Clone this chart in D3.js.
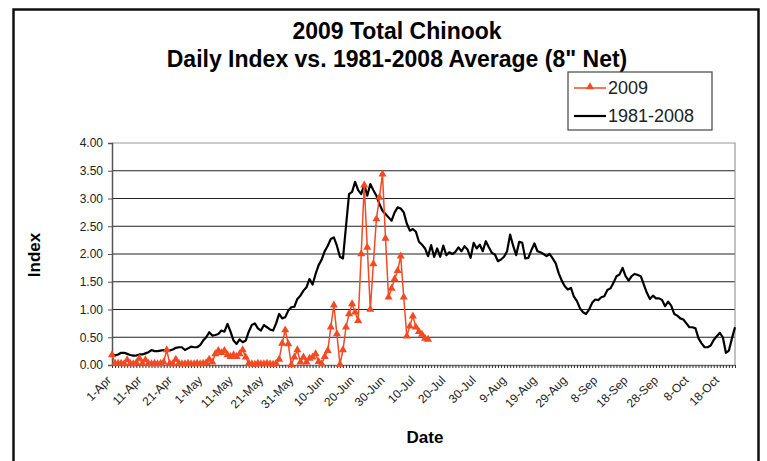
<!DOCTYPE html>
<html>
<head>
<meta charset="utf-8">
<script src="https://d3js.org/d3.v7.min.js"></script>
<style>
    body { margin: 0; background: #fff; }
    svg { display: block; font-family: "Liberation Sans", Arial, sans-serif; }
</style>
</head>
<body>
<svg width="767" height="461"></svg>
<script>
// first and last day of the season
var startDate = "1-Apr-2009";
var endDate = "23-Oct-2009";

var tickLabels = ["1-Apr", "11-Apr", "21-Apr", "1-May", "11-May", "21-May", "31-May",
    "10-Jun", "20-Jun", "30-Jun", "10-Jul", "20-Jul", "30-Jul", "9-Aug", "19-Aug",
    "29-Aug", "8-Sep", "18-Sep", "28-Sep", "8-Oct", "18-Oct"];

var yTicks = [0, 0.5, 1, 1.5, 2, 2.5, 3, 3.5, 4];

// 1981-2008 average daily index, one value per day from 1-Apr
var avgIndex = [
    0.20, 0.17, 0.19, 0.22, 0.22, 0.20, 0.18, 0.17, 0.17, 0.19,
    0.19, 0.21, 0.23, 0.27, 0.25, 0.25, 0.26, 0.27, 0.26, 0.26,
    0.28, 0.31, 0.32, 0.32, 0.27, 0.30, 0.33, 0.32, 0.32, 0.36,
    0.44, 0.50, 0.59, 0.53, 0.54, 0.56, 0.62, 0.60, 0.74, 0.60,
    0.44, 0.38, 0.46, 0.41, 0.44, 0.60, 0.72, 0.75, 0.66, 0.62,
    0.72, 0.68, 0.64, 0.62, 0.75, 0.92, 0.84, 0.86, 0.98, 1.04,
    1.05, 1.19, 1.25, 1.34, 1.40, 1.55, 1.45, 1.64, 1.80, 1.90,
    2.05, 2.15, 2.27, 2.30, 2.15, 1.95, 1.92, 2.50, 3.08, 3.12,
    3.30, 3.15, 3.08, 3.25, 3.05, 3.26, 3.15, 3.05, 2.90, 2.78,
    2.72, 2.66, 2.60, 2.75, 2.84, 2.82, 2.75, 2.55, 2.42, 2.45,
    2.40, 2.22, 2.17, 2.10, 1.96, 2.16, 1.95, 2.10, 1.95, 2.15,
    1.98, 2.03, 2.00, 2.04, 2.12, 2.05, 2.14, 2.08, 1.93, 2.20,
    2.10, 2.17, 2.05, 2.23, 2.12, 2.02, 1.99, 1.87, 1.90, 1.95,
    2.05, 2.35, 2.15, 1.98, 2.22, 2.20, 1.92, 1.93, 2.07, 2.19,
    2.05, 2.03, 2.00, 1.96, 2.00, 1.92, 1.83, 1.65, 1.52, 1.42,
    1.36, 1.39, 1.23, 1.15, 1.02, 0.95, 0.92, 1.00, 1.12, 1.18,
    1.17, 1.22, 1.24, 1.35, 1.38, 1.48, 1.60, 1.63, 1.75, 1.60,
    1.52, 1.60, 1.64, 1.62, 1.60, 1.45, 1.30, 1.19, 1.25, 1.20,
    1.20, 1.17, 1.06, 1.14, 1.07, 0.92, 0.89, 0.84, 0.82, 0.75,
    0.68, 0.68, 0.66, 0.48, 0.39, 0.32, 0.32, 0.35, 0.45, 0.52,
    0.58, 0.50, 0.22, 0.26, 0.48, 0.68
];

// 2009 daily index, from 1-Apr until the test fishing stopped
var index2009 = [
    0.18, 0.03, 0.03, 0.03, 0.02, 0.09, 0.03, 0.02, 0.04, 0.12,
    0.03, 0.09, 0.03, 0.02, 0.03, 0.02, 0.03, 0.05, 0.27, 0.03,
    0.02, 0.10, 0.03, 0.02, 0.02, 0.03, 0.02, 0.02, 0.03, 0.02,
    0.03, 0.04, 0.10, 0.05, 0.20, 0.26, 0.22, 0.26, 0.18, 0.15,
    0.18, 0.15, 0.20, 0.27, 0.14, 0.03, 0.02, 0.01, 0.03, 0.02,
    0.02, 0.03, 0.02, 0.01, 0.03, 0.10, 0.39, 0.63, 0.38, 0.00,
    0.14, 0.27, 0.05, 0.14, 0.05, 0.12, 0.14, 0.20, 0.06, 0.02,
    0.15, 0.26, 0.68, 1.08, 0.56, 0.01, 0.27, 0.68, 0.92, 1.10,
    0.95, 0.80, 2.00, 3.24, 2.12, 1.00, 1.82, 2.63, 3.02, 3.44,
    2.28, 1.22, 1.38, 1.55, 1.70, 1.96, 1.22, 0.52, 0.70, 0.88,
    0.68, 0.60, 0.55, 0.48, 0.46
];

var red = "#f24a22";
var parseDay = d3.timeParse("%d-%b-%Y");
var days = d3.timeDay.range(parseDay(startDate), d3.timeDay.offset(parseDay(endDate), 1));

var svg = d3.select("svg");

// outer frame
svg.append("rect")
    .attr("x", 13.5).attr("y", 9.5)
    .attr("width", 745).attr("height", 470)
    .attr("fill", "none")
    .attr("stroke", "#111")
    .attr("stroke-width", 2.5);

var xScale = d3.scaleTime()
    .domain([days[0], days[days.length - 1]])
    .range([112, 735]);

var yScale = d3.scaleLinear()
    .domain([0, 4])
    .range([365, 143]);

// gridlines
svg.append("g")
    .selectAll("line")
    .data(yTicks.slice(1, -1))
    .enter().append("line")
    .attr("x1", 112).attr("x2", 735)
    .attr("y1", function (d) { return yScale(d); })
    .attr("y2", function (d) { return yScale(d); })
    .attr("stroke", "#222")
    .attr("stroke-width", 1.2);

// plot border on top and right
svg.append("path")
    .attr("d", "M112," + yScale(4) + "H735V" + yScale(0))
    .attr("fill", "none")
    .attr("stroke", "#999")
    .attr("stroke-width", 1.2);

// y axis
var yAxis = svg.append("g")
    .attr("transform", "translate(112,0)")
    .call(d3.axisLeft(yScale).tickValues(yTicks).tickFormat(d3.format(".2f")).tickSize(4).tickPadding(5));
yAxis.select(".domain").attr("stroke", "#555").attr("stroke-width", 1.5);
yAxis.selectAll(".tick line").attr("stroke", "#555");
yAxis.selectAll("text").attr("font-size", 12).attr("fill", "#222").attr("font-family", "Liberation Sans, Arial");

// x axis with a tick for every day
var xAxis = svg.append("g")
    .attr("transform", "translate(0," + yScale(0) + ")")
    .call(d3.axisBottom(xScale).tickValues(days).tickFormat("").tickSize(3).tickSizeOuter(0));
xAxis.select(".domain").attr("stroke", "#777").attr("stroke-width", 1.5);
xAxis.selectAll(".tick line").attr("stroke", "#333");

svg.append("g")
    .selectAll("text")
    .data(tickLabels)
    .enter().append("text")
    .attr("transform", function (d) {
        return "translate(" + (xScale(parseDay(d + "-2009")) - 6) + "," + (yScale(0) + 10) + ")rotate(-45)";
    })
    .attr("text-anchor", "end")
    .attr("dy", "0.7em")
    .attr("font-size", 12)
    .attr("fill", "#222")
    .text(function (d) { return d; });

var line = d3.line()
    .x(function (d, i) { return xScale(days[i]); })
    .y(function (d) { return yScale(d); });

// 1981-2008 average
svg.append("path")
    .datum(avgIndex)
    .attr("d", line)
    .attr("fill", "none")
    .attr("stroke", "#000")
    .attr("stroke-width", 2.2)
    .attr("stroke-linejoin", "round");

// 2009 line and triangle markers
svg.append("path")
    .datum(index2009)
    .attr("d", line)
    .attr("fill", "none")
    .attr("stroke", red)
    .attr("stroke-width", 1.5);

var tri = d3.symbol().type(d3.symbolTriangle).size(28);
svg.selectAll(".dot")
    .data(index2009)
    .enter().append("path")
    .attr("class", "dot")
    .attr("transform", function (d, i) { return "translate(" + xScale(days[i]) + "," + yScale(d) + ")"; })
    .attr("d", tri)
    .attr("fill", red);

// titles
svg.append("text")
    .attr("x", 397).attr("y", 39)
    .attr("text-anchor", "middle")
    .attr("font-size", 23).attr("font-weight", "bold")
    .text("2009 Total Chinook");
svg.append("text")
    .attr("x", 397).attr("y", 67)
    .attr("text-anchor", "middle")
    .attr("font-size", 23).attr("font-weight", "bold")
    .text("Daily Index vs. 1981-2008 Average (8\" Net)");

svg.append("text")
    .attr("x", 425).attr("y", 443)
    .attr("text-anchor", "middle")
    .attr("font-size", 17).attr("font-weight", "bold")
    .text("Date");

svg.append("text")
    .attr("transform", "translate(40,255)rotate(-90)")
    .attr("text-anchor", "middle")
    .attr("font-size", 17).attr("font-weight", "bold")
    .text("Index");

// legend
var legend = svg.append("g").attr("transform", "translate(568,72)");
legend.append("rect")
    .attr("width", 144).attr("height", 58)
    .attr("fill", "#fff")
    .attr("stroke", "#444")
    .attr("stroke-width", 1.2);
legend.append("line")
    .attr("x1", 6).attr("x2", 38).attr("y1", 16).attr("y2", 16)
    .attr("stroke", red).attr("stroke-width", 1.5);
legend.append("path")
    .attr("transform", "translate(22,15)")
    .attr("d", tri)
    .attr("fill", red);
legend.append("text")
    .attr("x", 40).attr("y", 22)
    .attr("font-size", 18).attr("fill", "#222")
    .text("2009");
legend.append("line")
    .attr("x1", 6).attr("x2", 38).attr("y1", 44).attr("y2", 44)
    .attr("stroke", "#000").attr("stroke-width", 2.2);
legend.append("text")
    .attr("x", 40).attr("y", 50)
    .attr("font-size", 18).attr("fill", "#222")
    .text("1981-2008");
</script>
</body>
</html>
